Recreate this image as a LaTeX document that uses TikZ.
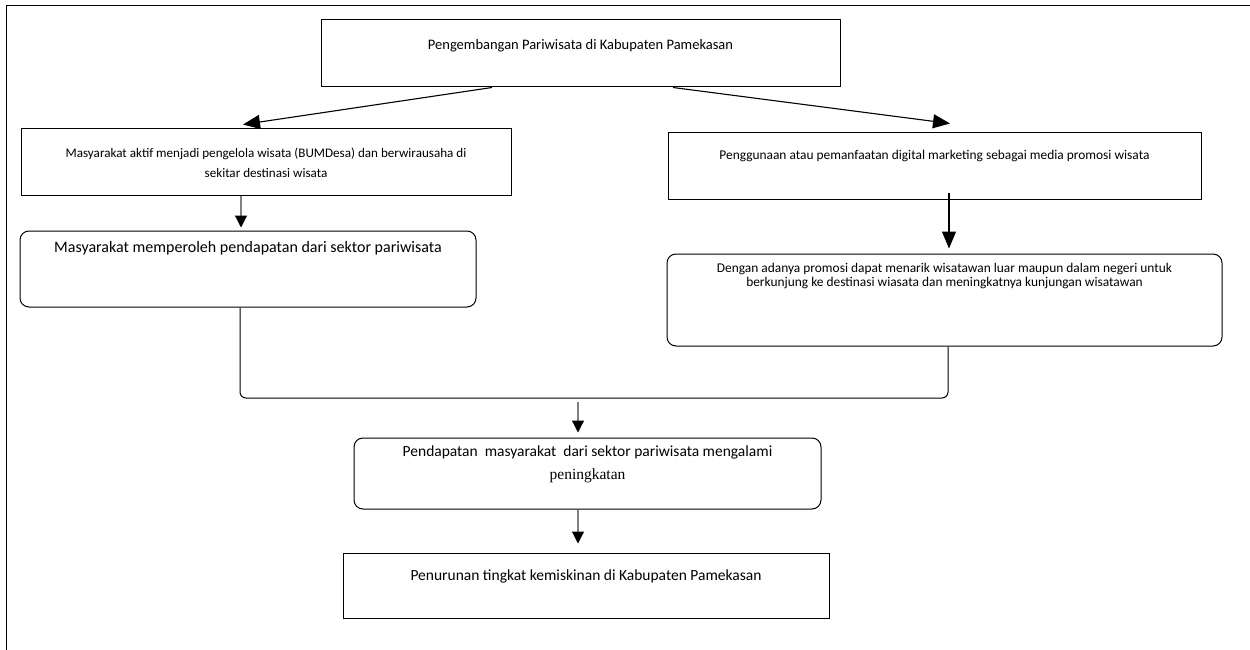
\documentclass[tikz,border=0pt]{standalone}
\usepackage{fontspec}
\setmainfont{Carlito}
\newfontfamily\timesfont{Liberation Serif}
\usetikzlibrary{arrows.meta, calc}

% box text: width, height, top gap, text
\newcommand{\boxtext}[4]{\parbox[c][#2][t]{#1}{\centering\vspace*{#3}#4}}

\begin{document}
\begin{tikzpicture}[x=1pt, y=-1pt,
    box/.style={draw, line width=1pt, inner sep=0pt},
    rbox/.style={box, rounded corners=9pt},
    conn/.style={line width=1pt},
    bigarrow/.style={line width=1.1pt, -{Triangle[length=17pt, width=14pt]}},
    greyarrow/.style={draw=gray, line width=1.2pt, -{Triangle[length=12pt, width=12pt, black]}}]
\useasboundingbox (0,0) rectangle (1250,650);

% frame
\draw[line width=1pt] (6,650) -- (6,6) -- (1250,6);

% boxes
\node[box] (dev) at (580.5,53.5) {\boxtext{519pt}{67pt}{19pt}{\fontsize{14.5}{17}\selectfont Pengembangan Pariwisata di Kabupaten Pamekasan}};
\node[box] (active) at (266,162) {\boxtext{490pt}{66pt}{19pt}{\fontsize{13.1}{20}\selectfont Masyarakat aktif menjadi pengelola wisata (BUMDesa) dan berwirausaha di\\ sekitar destinasi wisata}};
\node[box] (digital) at (934.5,166) {\boxtext{533pt}{66pt}{17.5pt}{\fontsize{13.4}{20}\selectfont Penggunaan atau pemanfaatan digital marketing sebagai media promosi wisata}};
\node[rbox] (income) at (248,269) {\boxtext{456pt}{76pt}{10pt}{\fontsize{16}{19}\selectfont Masyarakat memperoleh pendapatan dari sektor pariwisata}};
\node[rbox] (visit) at (944.5,300) {\boxtext{555pt}{92pt}{9pt}{\fontsize{13.4}{14.5}\selectfont Dengan adanya promosi dapat menarik wisatawan luar maupun dalam negeri untuk\\ berkunjung ke destinasi wiasata dan meningkatnya kunjungan wisatawan}};
\node[rbox] (rise) at (587.5,473.5) {\boxtext{467pt}{71pt}{8pt}{\fontsize{15.5}{23}\selectfont Pendapatan\ \ masyarakat\ \ dari sektor pariwisata mengalami\\ {\timesfont peningkatan}}};
\node[box] (poverty) at (586,585.5) {\boxtext{486pt}{65pt}{16.5pt}{\fontsize{15.5}{18}\selectfont Penurunan tingkat kemiskinan di Kabupaten Pamekasan}};

% arrows
\draw[bigarrow] ([xshift=-88.5pt]dev.south) -- ([xshift=-23pt, yshift=4pt]active.north);
\draw[bigarrow] ([xshift=92.5pt]dev.south) -- ([xshift=15.5pt, yshift=9pt]digital.north);
\draw[greyarrow] ([xshift=-25pt]active.south) -- ([xshift=-7pt, yshift=3pt]income.north);
\draw[bigarrow] ([xshift=14.5pt, yshift=7pt]digital.south) -- ([xshift=4.5pt, yshift=5pt]visit.north);

% joining line
\coordinate (merge) at (578,398);
\draw[conn, rounded corners=6pt] ([xshift=-8pt]income.south) |- (merge) -| ([xshift=3.5pt]visit.south);
\draw[greyarrow] ([yshift=-4pt]merge) -- ([xshift=-9.5pt, yshift=5pt]rise.north);
\draw[greyarrow] ([xshift=-9.5pt]rise.south) -- ([xshift=-8pt, yshift=9pt]poverty.north);
\end{tikzpicture}
\end{document}
